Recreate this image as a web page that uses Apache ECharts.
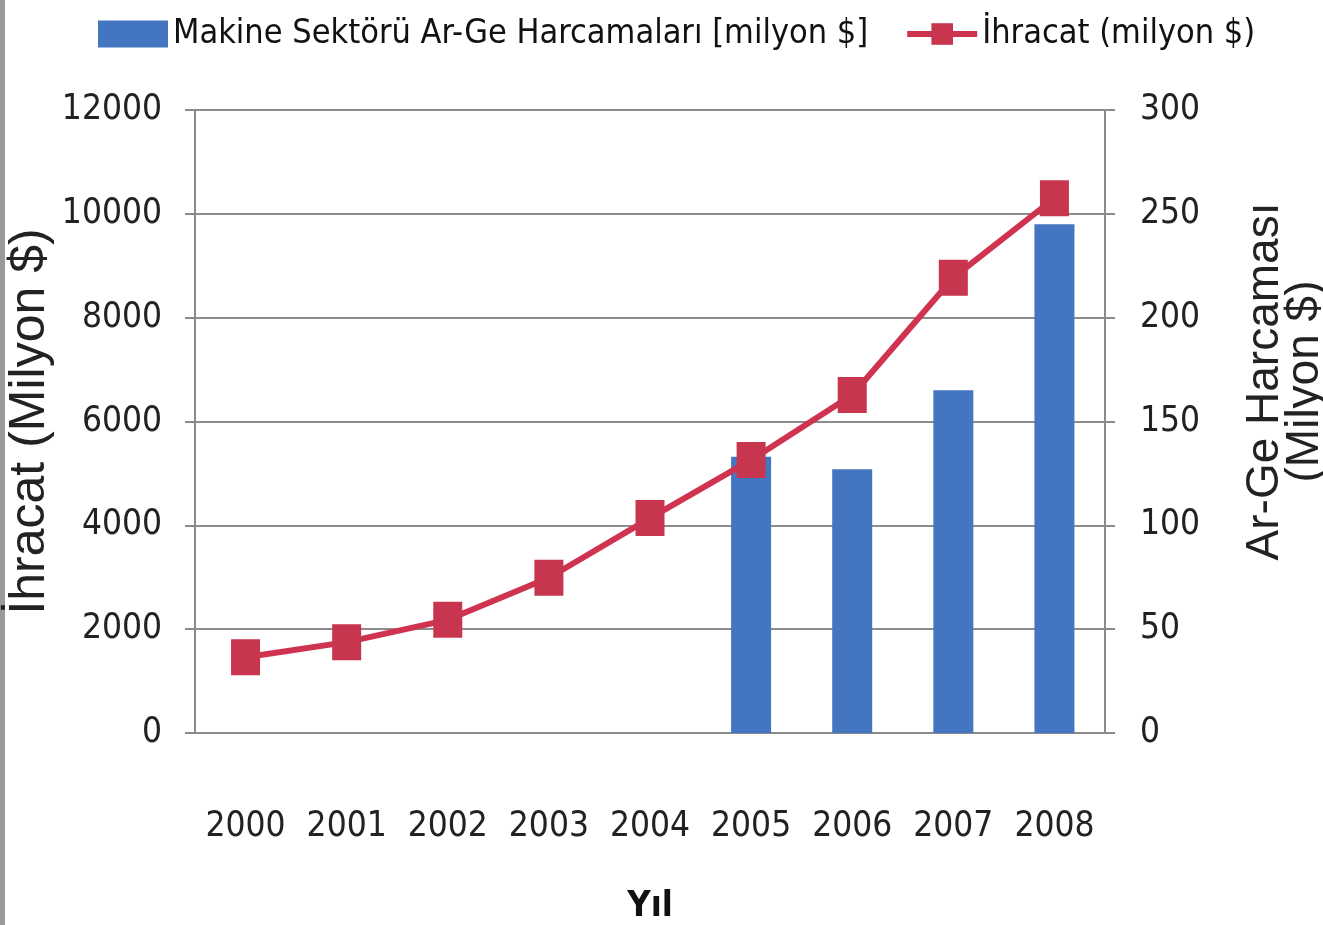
<!DOCTYPE html>
<html>
<head>
<meta charset="utf-8">
<script src="https://cdn.jsdelivr.net/npm/echarts@6/dist/echarts.min.js"></script>
<style>html,body{margin:0;padding:0;background:#fff}#c{width:1323px;height:925px}</style>
</head>
<body>
<div id="c"></div>
<script>
const years = ['2000','2001','2002','2003','2004','2005','2006','2007','2008'];
const argeSpending = [null, null, null, null, null, 133, 127, 165, 245];
const exportsVal = [1460, 1750, 2180, 2990, 4140, 5260, 6510, 8770, 10300];
const leftTicks = {min: 0, max: 12000, interval: 2000};
const rightTicks = {min: 0, max: 300, interval: 50};

const narrow = "'Liberation Sans Narrow', 'DejaVu Sans Condensed', sans-serif";
const plain = v => String(v);
const chart = echarts.init(document.getElementById('c'));
chart.setOption({
  backgroundColor: '#fff',
  animation: false,
  graphic: [{type: 'rect', left: 0, top: 0, shape: {width: 5, height: 925}, style: {fill: '#9a9a9a'}}],
  legend: {
    top: 12, left: 93, width: 1220, itemWidth: 70, itemHeight: 27, itemGap: 36,
    textStyle: {fontFamily: narrow, fontSize: 34, color: '#111'},
    data: [
      {name: 'Makine Sektörü Ar-Ge Harcamaları [milyon $]', icon: 'rect'},
      {name: 'İhracat (milyon $)', lineStyle: {width: 6}}
    ]
  },
  grid: {left: 195, right: 218, top: 110, bottom: 192, outerBoundsMode: 'none', containLabel: false},
  xAxis: {
    type: 'category', data: years,
    name: 'Yıl', nameLocation: 'middle', nameGap: 156,
    nameTextStyle: {fontFamily: narrow, fontSize: 36, fontWeight: 'bold', color: '#111'},
    axisLine: {lineStyle: {color: '#8a8a8a', width: 2}},
    axisTick: {show: false},
    axisLabel: {fontFamily: narrow, fontSize: 35, color: '#222', margin: 76, interval: 0}
  },
  yAxis: [
    {
      type: 'value', min: leftTicks.min, max: leftTicks.max, interval: leftTicks.interval,
      name: 'İhracat (Milyon $)', nameLocation: 'middle', nameGap: 140, nameMoveOverlap: false,
      nameTextStyle: {fontFamily: "'Liberation Sans', Arial, sans-serif", fontSize: 50, color: '#222'},
      axisLine: {show: true, lineStyle: {color: '#8a8a8a', width: 2}},
      axisTick: {show: true, length: 10, lineStyle: {color: '#8a8a8a', width: 2}},
      axisLabel: {fontFamily: narrow, fontSize: 35, color: '#222', margin: 33, formatter: plain},
      splitLine: {lineStyle: {color: '#8c8c8c', width: 2}}
    },
    {
      type: 'value', min: rightTicks.min, max: rightTicks.max, interval: rightTicks.interval,
      name: 'Ar-Ge Harcaması\n(Milyon $)', nameLocation: 'middle', nameGap: 140, nameMoveOverlap: false,
      nameTextStyle: {fontFamily: "'Liberation Sans', Arial, sans-serif", fontSize: 46, lineHeight: 40, color: '#222', padding: [0, 0, 0, 80]},
      axisLine: {show: true, lineStyle: {color: '#8a8a8a', width: 2}},
      axisTick: {show: true, length: 10, lineStyle: {color: '#8a8a8a', width: 2}},
      axisLabel: {fontFamily: narrow, fontSize: 35, color: '#222', margin: 35, formatter: plain},
      splitLine: {show: false}
    }
  ],
  series: [
    {
      name: 'Makine Sektörü Ar-Ge Harcamaları [milyon $]', type: 'bar', yAxisIndex: 1,
      data: argeSpending, barWidth: 40,
      itemStyle: {color: '#4475c1'}
    },
    {
      name: 'İhracat (milyon $)', type: 'line', yAxisIndex: 0,
      data: exportsVal, symbol: 'rect', symbolSize: [29, 36],
      lineStyle: {color: '#cf3350', width: 6},
      itemStyle: {color: '#c8354e'},
      z: 5
    }
  ]
});
</script>
</body>
</html>
